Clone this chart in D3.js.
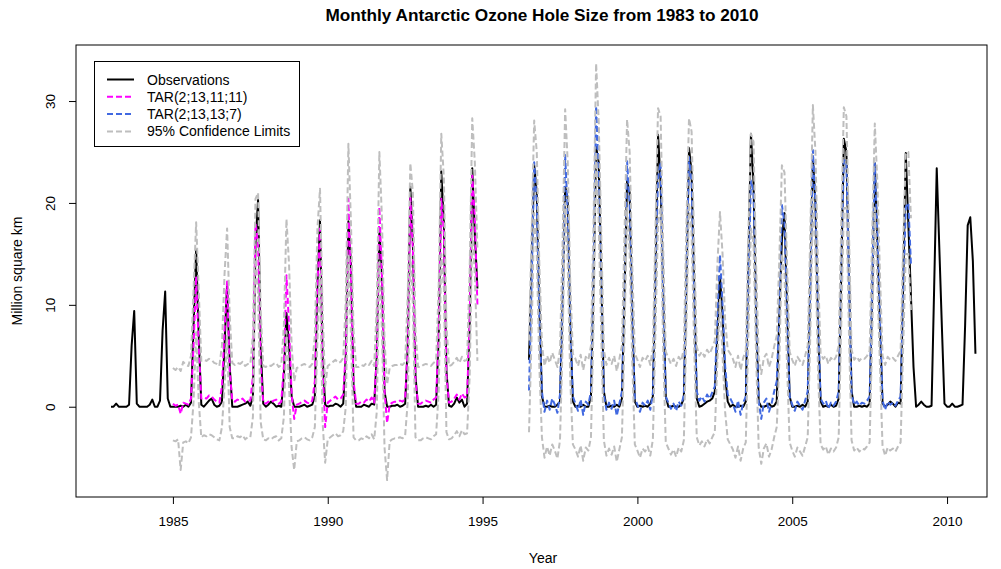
<!DOCTYPE html>
<html><head><meta charset="utf-8">
<script src="https://cdn.jsdelivr.net/npm/d3@7"></script>
<style>body{margin:0;background:#fff} svg{display:block} text{font-family:"Liberation Sans",Arial,sans-serif}</style>
</head><body><svg id="c" width="1001" height="569"></svg>
<script>
// ---- data (monthly values, million square km) ----
const xTicks = [1985, 1990, 1995, 2000, 2005, 2010];
const yTicks = [0, 10, 20, 30];
const legendLabels = ["Observations", "TAR(2;13,11;11)", "TAR(2;13,13;7)", "95% Confidence Limits"];

// Observations, first block: starts Jan 1983
const obsAStart = [1983, 1];
const obsA = [
 0,0,0.3,0,0,0,0,0.2,6.0,9.4,0.3,0,
 0,0,0,0.2,0.7,0,0,0.6,7.5,11.3,0.8,0,
 0,0,0,0.1,0,0.2,0,0.4,8.0,15.4,7.0,0.2,
 0,0.3,0.6,0.8,0.2,0,0.1,0.5,6.0,12.1,4.0,0,
 0,0,0.1,0.2,0.3,0.5,0.1,1.0,16.0,20.3,6.0,0.3,
 0,0.2,0.5,0.3,0,0.1,0,3.0,9.2,6.0,1.0,0,
 0,0,0.1,0.2,0,0.1,0.2,1.0,12.0,18.3,5.0,0.2,
 0,0.1,0.1,0.3,0.2,0,0.3,5.0,18.2,14.0,2.0,0,
 0,0,0.2,0.1,0,0.3,0.2,5.0,17.3,13.0,1.5,0,
 0,0.1,0.1,0.2,0,0.1,0.3,6.0,21.6,16.0,3.0,0,
 0,0,0.1,0,0.2,0,0.2,7.0,23.1,18.0,3.5,0.1,
 0,0.3,0.9,0.4,0.7,0,0.3,8.0,23.4,17.0,11.6
];
// TAR(2;13,11;11) fit: starts Jan 1985
const fitAStart = [1985, 1];
const fitA = [
 0.3,0.1,0.2,-0.7,0.4,0.3,0.2,0.8,6.0,12.8,6.0,0.8,
 0.9,0.8,1.1,1.0,0.7,0.5,0.4,2.0,7.5,12.3,3.5,0.6,
 0.5,0.7,0.6,0.8,0.5,0.6,0.6,3.0,18.0,16.0,4.0,0.4,
 0.3,0.5,0.4,0.6,0.7,0.3,0.5,4.0,12.9,8.0,1.2,-1.2,
 0.2,0.3,0.5,0.6,0.4,0.3,0.6,2.5,12.0,17.5,4.0,-2.0,
 0.4,0.6,0.8,1.0,0.7,0.8,1.2,5.5,20.4,12.5,2.5,0.3,
 0.3,0.5,0.4,0.7,0.5,0.9,0.4,5.0,19.6,13.0,1.5,-1.6,
 0.2,0.4,0.5,0.5,0.6,0.5,0.8,6.0,20.5,15.5,2.5,0.3,
 0.3,0.5,0.6,0.5,0.4,0.7,0.9,7.0,20.4,17.0,3.0,0.4,
 0.5,0.8,1.2,0.7,1.3,0.9,1.0,8.5,22.7,18.5,10.0
];
const upA = [
 3.8,3.6,3.9,3.5,4.4,4.1,4.0,5.0,11.5,18.1,11.5,4.5,
 4.6,4.5,4.7,4.6,4.3,4.2,4.0,6.0,13.0,17.5,9.0,4.3,
 4.1,4.3,4.2,4.4,4.0,4.2,4.2,7.0,20.4,21.0,9.5,4.0,
 3.9,4.1,4.0,4.2,4.3,3.9,4.1,8.0,18.4,14.0,6.0,2.5,
 3.8,3.9,4.1,4.2,4.0,3.9,4.2,7.0,17.5,21.4,9.5,2.0,
 4.0,4.2,4.4,4.6,4.3,4.4,4.8,10.5,25.8,18.0,7.5,3.9,
 3.9,4.1,4.0,4.3,4.1,4.5,4.0,10.0,25.0,18.5,6.5,2.2,
 3.8,4.0,4.1,4.1,4.2,4.1,4.4,11.0,23.9,21.0,7.5,3.9,
 3.9,4.1,4.2,4.1,4.0,4.3,4.5,12.0,26.8,22.5,8.0,4.0,
 4.1,4.4,4.8,4.3,4.9,4.5,4.6,13.5,28.3,24.0,15.5
];
const loA = [
 -3.3,-3.4,-3.2,-6.2,-3.5,-3.4,-3.6,-3.0,0.5,7.3,0.5,-3.0,
 -2.8,-2.9,-2.7,-2.8,-3.0,-3.2,-3.3,-2.0,2.0,7.0,-2.0,-3.1,
 -3.1,-2.9,-3.0,-2.8,-3.2,-3.0,-3.0,-1.0,14.5,11.0,-1.5,-3.2,
 -3.3,-3.1,-3.2,-3.0,-2.9,-3.3,-3.1,-1.0,7.4,2.0,-4.0,-6.2,
 -3.4,-3.3,-3.1,-3.0,-3.2,-3.3,-3.0,-2.0,6.5,13.0,-1.5,-5.5,
 -3.2,-3.0,-2.8,-2.6,-2.9,-2.8,-2.4,0.0,15.0,7.0,-3.0,-3.3,
 -3.3,-3.1,-3.2,-2.9,-3.1,-2.7,-3.2,-0.5,14.2,7.5,-4.0,-7.2,
 -3.4,-3.2,-3.1,-3.1,-3.0,-3.1,-2.8,0.5,15.0,10.0,-3.0,-3.3,
 -3.3,-3.1,-3.0,-3.1,-3.2,-2.9,-2.7,1.5,15.0,11.5,-2.5,-3.2,
 -3.1,-2.8,-2.4,-2.9,-2.3,-2.7,-2.6,3.0,17.2,13.0,4.5
];

// Observations, second block: starts Jul 1996
const obsBStart = [1996, 7];
const obsB = [
 4.6,14.0,23.7,21.0,10.0,1.0,
 0,0,0.1,0,0,0.2,0.5,10.0,21.6,20.5,8.0,0.5,
 0,0.1,0,0.2,0,0,1.0,12.0,25.5,24.0,13.0,1.5,
 0,0,0.1,0,0.2,0,0.8,11.0,22.1,21.0,9.0,0.5,
 0,0.1,0,0.1,0,0.3,1.0,13.0,26.7,22.0,11.0,1.0,
 0,0,0.1,0,0,0.2,0.8,12.0,25.4,23.0,12.0,0.8,
 0,0.1,0.3,0.5,0.6,0.8,1.5,7.2,12.8,9.0,3.0,0.5,
 0,0.2,0,0,0.1,0,0.5,14.0,26.8,22.0,9.0,0.5,
 0,0,0.1,0.3,0,0.1,0.5,9.0,16.4,19.0,10.0,1.0,
 0,0,0.1,0,0.2,0,0.5,12.0,24.5,20.0,8.0,0.5,
 0,0.1,0,0.2,0,0.1,0.8,13.0,26.3,25.0,13.0,1.5,
 0,0,0.1,0,0.1,0,0.3,11.0,23.9,16.0,8.0,0.3,
 0,0.2,0.5,0.3,0,0.4,0.3,12.0,24.9,17.9,10.9,3.9,
 0,0.2,0.5,0.2,0,0,0.1,11.7,23.4,15.6,7.8,0.3,
 0,0,0.3,0,0,0.1,0.2,8.0,17.8,18.6,14.3,5.2
];
// TAR(2;13,13;7) fit: starts Jul 1996
const fitBStart = [1996, 7];
const fitB = [
 1.6,12.0,24.0,20.0,9.0,1.5,
 -0.5,0.6,-0.3,0.8,0.2,-0.6,1.2,11.0,24.7,19.0,7.5,1.0,
 0.3,-0.4,0.7,-0.8,0.5,0.2,1.5,13.0,29.5,23.0,12.0,1.2,
 -0.3,0.4,-0.2,0.6,-0.9,0.3,1.5,12.0,24.1,20.0,9.5,0.8,
 0.2,-0.5,0.4,0.1,0.6,-0.3,1.3,12.5,22.5,24.0,10.5,1.0,
 0.4,-0.2,0.3,-0.4,0.5,0.1,1.2,13.0,24.5,22.0,11.0,1.5,
 0.6,1.0,0.5,1.2,0.8,1.4,2.0,9.2,14.9,10.0,4.0,1.2,
 0.8,0.3,-0.5,0.6,-0.8,0.4,1.0,12.0,22.2,21.0,9.5,0.5,
 -1.2,0.4,0.8,-0.5,0.3,1.5,2.5,9.5,19.8,18.0,9.0,1.0,
 0.2,-0.4,0.5,0.1,-0.3,0.6,1.5,12.0,25.2,20.0,8.5,0.8,
 0.3,0.6,-0.2,0.4,0.1,0.5,1.5,13.0,24.2,24.0,12.0,1.2,
 0.2,0.5,0.1,0.4,0.3,0.6,1.0,12.0,23.9,17.0,8.5,0.6,
 -0.3,0.5,0.2,0.4,0.1,0.6,1.0,11.0,19.6,20.0,14.0
];
const upB = [
 6.5,17.0,28.1,25.0,14.0,6.2,
 4.0,5.0,4.3,5.3,4.6,3.9,5.6,16.0,29.2,24.0,12.0,5.2,
 4.7,4.0,5.1,3.6,4.9,4.6,6.0,18.0,33.7,28.0,17.0,5.6,
 4.1,4.8,4.2,5.0,3.5,4.7,6.0,17.0,28.2,25.0,14.0,5.2,
 4.6,3.9,4.8,4.5,5.0,4.1,5.8,17.5,29.3,28.5,15.5,5.4,
 4.8,4.2,4.7,4.0,4.9,4.5,5.7,18.0,28.3,27.0,16.0,5.9,
 5.0,5.4,4.9,5.6,5.2,5.8,6.5,14.0,19.1,15.0,8.5,5.6,
 5.2,4.7,3.9,5.0,3.6,4.8,5.5,17.0,26.8,26.0,14.0,4.9,
 3.2,4.8,5.2,3.9,4.7,5.9,7.0,14.5,23.7,23.0,14.0,5.4,
 4.6,4.0,4.9,4.5,4.1,5.0,6.0,17.0,29.6,25.0,13.5,5.2,
 4.7,5.0,4.2,4.8,4.5,4.9,6.0,18.0,29.4,28.5,17.0,5.6,
 4.6,4.9,4.5,4.8,4.7,5.0,5.5,17.0,27.8,22.0,13.0,5.0,
 4.1,4.9,4.6,4.8,4.5,5.0,5.5,16.0,24.8,25.0,18.5
];
const loB = [
 -2.5,7.0,19.0,15.0,4.0,-3.0,
 -5.0,-3.9,-4.8,-3.7,-4.3,-5.1,-3.3,6.0,20.0,14.0,2.5,-3.7,
 -4.2,-4.9,-3.8,-5.3,-4.0,-4.3,-3.0,8.0,25.0,18.0,7.0,-3.3,
 -4.8,-4.1,-4.7,-3.9,-5.4,-4.2,-3.0,7.0,19.5,15.0,4.5,-3.7,
 -4.3,-5.0,-4.1,-4.4,-3.9,-4.8,-3.2,7.5,18.0,19.5,5.5,-3.5,
 -4.1,-4.7,-4.2,-4.9,-4.0,-4.4,-3.3,8.0,20.0,17.0,6.0,-3.0,
 -3.8,-3.4,-3.9,-3.2,-3.6,-3.0,-2.5,4.5,10.5,5.0,-0.5,-3.2,
 -3.7,-4.2,-5.0,-3.9,-5.3,-4.1,-3.5,7.0,17.5,16.0,5.0,-4.0,
 -5.6,-4.1,-3.6,-4.9,-4.2,-3.0,-2.0,4.5,15.0,13.0,4.0,-3.5,
 -4.3,-4.9,-4.0,-4.4,-4.8,-3.9,-3.0,7.0,20.5,15.0,3.5,-3.7,
 -4.2,-3.9,-4.7,-4.1,-4.4,-4.0,-3.0,8.0,19.5,19.5,7.0,-3.3,
 -4.3,-4.0,-4.4,-4.1,-4.2,-3.9,-3.5,7.0,19.5,12.0,4.0,-3.9,
 -4.8,-4.0,-4.3,-4.1,-4.4,-3.9,-3.5,6.0,15.0,15.0,9.5
];

// ---- drawing ----
const svg = d3.select("#c");
const L = 76, R = 987, T = 45, B = 497;
const x = d3.scaleLinear().domain([1981.87, 2011.29]).range([L, R]);
const y = d3.scaleLinear().domain([-8.86, 35.5]).range([B, T]);

function toPts(start, vals) {
  return vals.map((v, i) => ({ t: start[0] + (start[1] - 1 + i) / 12, v }));
}
const line = d3.line().x(d => x(d.t)).y(d => y(d.v));

svg.append("defs").append("clipPath").attr("id", "clip")
  .append("rect").attr("x", L).attr("y", T).attr("width", R - L).attr("height", B - T);
const g = svg.append("g").attr("clip-path", "url(#clip)");

const BLACK = "#000000", MAG = "#FF00FF", BLUE = "#4169E1", GRAY = "#BEBEBE";
const series = [
  { d: toPts(obsAStart, obsA), c: BLACK, dash: null },
  { d: toPts(obsBStart, obsB), c: BLACK, dash: null },
  { d: toPts(fitAStart, fitA), c: MAG, dash: "6,3" },
  { d: toPts(fitBStart, fitB), c: BLUE, dash: "6,3" },
  { d: toPts(fitAStart, upA), c: GRAY, dash: "6,3" },
  { d: toPts(fitAStart, loA), c: GRAY, dash: "6,3" },
  { d: toPts(fitBStart, upB), c: GRAY, dash: "6,3" },
  { d: toPts(fitBStart, loB), c: GRAY, dash: "6,3" }
];
series.forEach(s => {
  g.append("path").datum(s.d).attr("d", line).attr("fill", "none")
    .attr("stroke", s.c).attr("stroke-width", 2)
    .attr("stroke-dasharray", s.dash).attr("stroke-linejoin", "round");
});

// box
svg.append("rect").attr("x", L).attr("y", T).attr("width", R - L).attr("height", B - T)
  .attr("fill", "none").attr("stroke", "#000").attr("stroke-width", 1);

// axes
const xa = svg.append("g").attr("transform", `translate(0,${B})`)
  .call(d3.axisBottom(x).tickValues(xTicks).tickFormat(d3.format("d")).tickSize(7).tickSizeOuter(0).tickPadding(12));
xa.select(".domain").remove();
xa.selectAll("text").attr("font-size", 13.5).attr("font-family", '"Liberation Sans",Arial,sans-serif').attr("fill", "#000");
xa.selectAll("line").attr("stroke", "#000");

const ya = svg.append("g").attr("transform", `translate(${L},0)`)
  .call(d3.axisLeft(y).tickValues(yTicks).tickSize(7).tickSizeOuter(0));
ya.select(".domain").remove();
ya.selectAll("line").attr("stroke", "#000");
ya.selectAll("text").remove();
ya.selectAll(".tick").append("text")
  .attr("transform", "translate(-21,0) rotate(-90)")
  .attr("text-anchor", "middle").attr("fill", "#000")
  .attr("font-size", 13.5).attr("font-family", '"Liberation Sans",Arial,sans-serif')
  .text(d => d);

// titles
svg.append("text").attr("x", 542).attr("y", 21).attr("text-anchor", "middle")
  .attr("font-size", 17.2).attr("font-weight", "bold").text("Monthly Antarctic Ozone Hole Size from 1983 to 2010");
svg.append("text").attr("x", 543).attr("y", 563).attr("text-anchor", "middle")
  .attr("font-size", 14).text("Year");
svg.append("text").attr("transform", `translate(22,${(T + B) / 2}) rotate(-90)`)
  .attr("text-anchor", "middle").attr("font-size", 14).text("Million square km");

// legend
const lg = svg.append("g");
lg.append("rect").attr("x", 94.5).attr("y", 61.5).attr("width", 205).attr("height", 85)
  .attr("fill", "#fff").attr("stroke", "#000").attr("stroke-width", 1);
const lcol = [BLACK, MAG, BLUE, GRAY];
const ldash = [null, "6,3", "6,3", "6,3"];
legendLabels.forEach((lab, i) => {
  const yy = 79.5 + i * 17.3;
  lg.append("line").attr("x1", 107).attr("x2", 134).attr("y1", yy).attr("y2", yy)
    .attr("stroke", lcol[i]).attr("stroke-width", 2).attr("stroke-dasharray", ldash[i]);
  lg.append("text").attr("x", 147).attr("y", yy + 5).attr("font-size", 14).text(lab);
});
</script></body></html>
